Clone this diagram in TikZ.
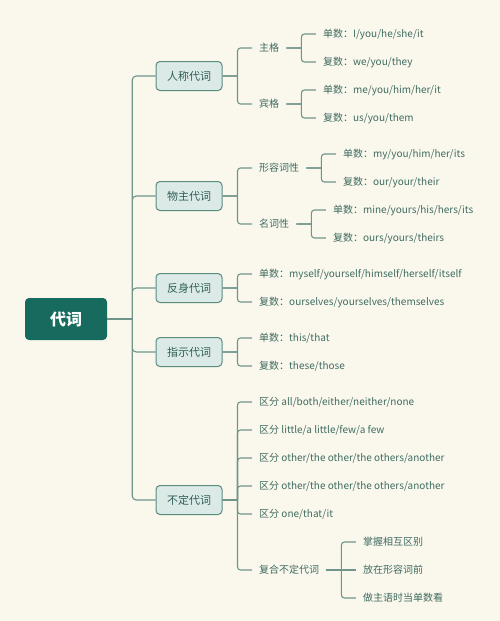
\documentclass[tikz,border=0pt]{standalone}
\usepackage{fontspec}
\setmainfont{Noto Sans CJK SC}
\usepackage{tikz}
\usetikzlibrary{positioning}

\definecolor{bgcream}{HTML}{FAF8EC}
\definecolor{rootfill}{HTML}{166B5E}
\definecolor{boxfill}{HTML}{DCEAE7}
\definecolor{boxline}{HTML}{5A8C80}
\definecolor{boxtext}{HTML}{2E5F57}
\definecolor{leaftext}{HTML}{3F6B62}
\definecolor{linecol}{HTML}{6F958B}

\tikzset{
  root/.style={fill=rootfill, rounded corners=4pt, minimum width=82pt,
    minimum height=42pt, text=white, font=\fontsize{16}{18}\selectfont\bfseries},
  box/.style={draw=boxline, fill=boxfill, line width=1pt, rounded corners=4pt,
    minimum width=66pt, minimum height=29pt, text=boxtext,
    font=\fontsize{11}{13}\selectfont},
  leaf/.style={anchor=west, inner xsep=7pt, inner ysep=2pt, text=leaftext,
    font=\fontsize{10}{12}\selectfont},
  link/.style={draw=linecol, line width=1.1pt},
  flat/.style={edge from parent path={(\tikzparentnode.east) -- (\tikzchildnode.west)}},
}

\begin{document}
\begin{tikzpicture}[grow'=right, growth parent anchor=east,
  level distance=29.5pt, sibling distance=28pt,
  level 2/.style={sibling distance=28pt},
  every child node/.style={leaf},
  edge from parent/.style={link},
  edge from parent path={(\tikzparentnode.east) -- ++(15pt,0)
    (\tikzparentnode.east) ++(15pt,0) [rounded corners=3pt] |- (\tikzchildnode.west)}]
  \useasboundingbox[fill=bgcream] (0,0) rectangle (500pt,-621pt);

  \node[root] (daici) at (66pt,-319pt) {代词};

  \node[box] (renc) at (189pt,-76pt) {人称代词} [sibling distance=56pt]
    child { node {主格}
      child { node {单数：I/you/he/she/it} }
      child { node {复数：we/you/they} } }
    child { node {宾格}
      child { node {单数：me/you/him/her/it} }
      child { node {复数：us/you/them} } };

  \node[box] (wuzhu) at (189pt,-196pt) {物主代词} [sibling distance=56pt]
    child { node {形容词性}
      child { node {单数：my/you/him/her/its} }
      child { node {复数：our/your/their} } }
    child { node {名词性}
      child { node {单数：mine/yours/his/hers/its} }
      child { node {复数：ours/yours/theirs} } };

  \node[box] (fanshen) at (189pt,-288pt) {反身代词}
    child { node {单数：myself/yourself/himself/herself/itself} }
    child { node {复数：ourselves/yourselves/themselves} };

  \node[box] (zhishi) at (189pt,-352pt) {指示代词}
    child { node {单数：this/that} }
    child { node {复数：these/those} };

  \node[box] (buding) at (189pt,-500pt) {不定代词}
    child { node {区分 all/both/either/neither/none} }
    child { node {区分 little/a little/few/a few} }
    child { node {区分 other/the other/the others/another} }
    child { node {区分 other/the other/the others/another} }
    child { node {区分 one/that/it} }
    child[missing] {}
    child { node {复合不定代词}
      child { node {掌握相互区别} }
      child[flat] { node {放在形容词前} }
      child { node {做主语时当单数看} } }
    child[missing] {};

  \draw[link] (daici.east) -- ++(25pt,0);
  \draw[link, rounded corners=4pt]
    (daici.east) ++(25pt,0) |- (renc.west)
    (daici.east) ++(25pt,0) |- (wuzhu.west)
    (daici.east) ++(25pt,0) |- (fanshen.west)
    (daici.east) ++(25pt,0) |- (zhishi.west)
    (daici.east) ++(25pt,0) |- (buding.west);
\end{tikzpicture}
\end{document}
